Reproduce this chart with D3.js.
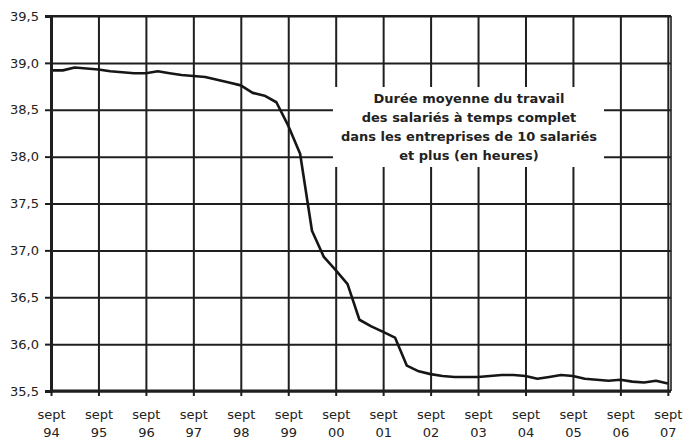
<!DOCTYPE html>
<html>
<head>
<meta charset="utf-8">
<script src="https://cdn.jsdelivr.net/npm/d3@7"></script>
<style>
  html, body { margin: 0; padding: 0; background: #fff; }
  svg { display: block; }
  text { font-family: "DejaVu Sans", sans-serif; fill: #222; }
</style>
</head>
<body>
<svg id="chart" width="686" height="441"></svg>
<script>
// ---- data (quarterly, sept 1994 -> sept 2007) ----
const dates = [
  "1994-09","1994-12",
  "1995-03","1995-06","1995-09","1995-12",
  "1996-03","1996-06","1996-09","1996-12",
  "1997-03","1997-06","1997-09","1997-12",
  "1998-03","1998-06","1998-09","1998-12",
  "1999-03","1999-06","1999-09","1999-12",
  "2000-03","2000-06","2000-09","2000-12",
  "2001-03","2001-06","2001-09","2001-12",
  "2002-03","2002-06","2002-09","2002-12",
  "2003-03","2003-06","2003-09","2003-12",
  "2004-03","2004-06","2004-09","2004-12",
  "2005-03","2005-06","2005-09","2005-12",
  "2006-03","2006-06","2006-09","2006-12",
  "2007-03","2007-06","2007-09"
];
const hours = [
  38.92, 38.92,
  38.95, 38.94, 38.93, 38.91,
  38.90, 38.89, 38.89, 38.91,
  38.89, 38.87, 38.86, 38.85,
  38.82, 38.79, 38.76, 38.68,
  38.65, 38.58, 38.33, 38.03,
  37.21, 36.93, 36.79, 36.64,
  36.26, 36.19, 36.13, 36.07,
  35.77, 35.71, 35.68, 35.66,
  35.65, 35.65, 35.65, 35.66,
  35.67, 35.67, 35.66, 35.63,
  35.65, 35.67, 35.66, 35.63,
  35.62, 35.61, 35.62, 35.60,
  35.59, 35.61, 35.58
];
const xTickYears = ["94","95","96","97","98","99","00","01","02","03","04","05","06","07"];
const xTickPrefix = "sept";
const yTicks = [35.5, 36.0, 36.5, 37.0, 37.5, 38.0, 38.5, 39.0, 39.5];
const titleLines = [
  "Durée moyenne du travail",
  "des salariés à temps complet",
  "dans les entreprises de 10 salariés",
  "et plus (en heures)"
];

// ---- layout ----
const svg = d3.select("#chart");
const mLeft = 51, mRight = 671, mTop = 16, mBottom = 391;

// months since sept 1994
const monthIndex = s => {
  const [yy, mm] = s.split("-").map(Number);
  return (yy - 1994) * 12 + (mm - 9);
};
const data = dates.map((d, i) => ({ m: monthIndex(d), v: hours[i] }));

const x = d3.scaleLinear().domain([0, 156.8]).range([mLeft, mRight]);
const y = d3.scaleLinear().domain([35.5, 39.5]).range([mBottom, mTop]);

const xTickVals = xTickYears.map((_, i) => i * 12);

const ink = "#1f1f1f";

// horizontal gridlines
const gy = svg.append("g")
  .attr("transform", `translate(${mLeft},0)`)
  .call(d3.axisLeft(y).tickValues(yTicks).tickSize(-(mRight - mLeft)).tickFormat(""));
gy.select(".domain").remove();
gy.selectAll("line").attr("stroke", ink).attr("stroke-width", 2);

// vertical gridlines
const gx = svg.append("g")
  .attr("transform", `translate(0,${mBottom})`)
  .call(d3.axisBottom(x).tickValues(xTickVals).tickSize(-(mBottom - mTop)).tickFormat(""));
gx.select(".domain").remove();
gx.selectAll("line").attr("stroke", ink).attr("stroke-width", 2);

// plot border (top/right)
svg.append("line").attr("x1", mLeft).attr("x2", mRight).attr("y1", mTop).attr("y2", mTop)
  .attr("stroke", ink).attr("stroke-width", 2);
svg.append("line").attr("x1", mRight).attr("x2", mRight).attr("y1", mTop).attr("y2", mBottom)
  .attr("stroke", ink).attr("stroke-width", 1.6);

// title box (white patch over grid)
const box = { x0: 333, x1: 604, y0: 87, y1: 167 };
svg.append("rect")
  .attr("x", box.x0).attr("y", box.y0)
  .attr("width", box.x1 - box.x0).attr("height", box.y1 - box.y0)
  .attr("fill", "#fff");

// line
const line = d3.line().x(d => x(d.m)).y(d => y(d.v));
svg.append("path")
  .datum(data)
  .attr("d", line)
  .attr("fill", "none")
  .attr("stroke", "#161616")
  .attr("stroke-width", 2.6)
  .attr("stroke-linejoin", "round");

// y axis
const ya = svg.append("g")
  .attr("transform", `translate(${mLeft},0)`)
  .call(d3.axisLeft(y).tickValues(yTicks).tickSize(6).tickPadding(6)
    .tickFormat(d => d3.format(".1f")(d).replace(".", ",")));
ya.select(".domain").attr("stroke", ink).attr("stroke-width", 3);
ya.selectAll("line").attr("stroke", ink).attr("stroke-width", 2);
ya.selectAll("text").style("font-size", "13px").attr("fill", "#222");

// x axis
const xa = svg.append("g")
  .attr("transform", `translate(0,${mBottom})`)
  .call(d3.axisBottom(x).tickValues(xTickVals).tickSize(5).tickSizeOuter(0).tickFormat(""));
xa.select(".domain").attr("stroke", ink).attr("stroke-width", 3)
  .attr("d", `M${mLeft - 1},0H${mRight}`);
xa.selectAll("line").attr("stroke", ink).attr("stroke-width", 2);
xa.selectAll(".tick").each(function (d, i) {
  const t = d3.select(this).append("text")
    .attr("text-anchor", "middle")
    .style("font-size", "13px")
    .attr("fill", "#222");
  t.append("tspan").attr("x", 0).attr("y", 28).text(xTickPrefix);
  t.append("tspan").attr("x", 0).attr("y", 46).text(xTickYears[i]);
});

// title text
const cx = 469;
svg.append("g").selectAll("text")
  .data(titleLines)
  .join("text")
  .attr("x", cx)
  .attr("y", (d, i) => 103 + i * 19)
  .attr("text-anchor", "middle")
  .style("font-size", "13px")
  .style("font-weight", "bold")
  .attr("fill", "#222")
  .text(d => d);
</script>
</body>
</html>
